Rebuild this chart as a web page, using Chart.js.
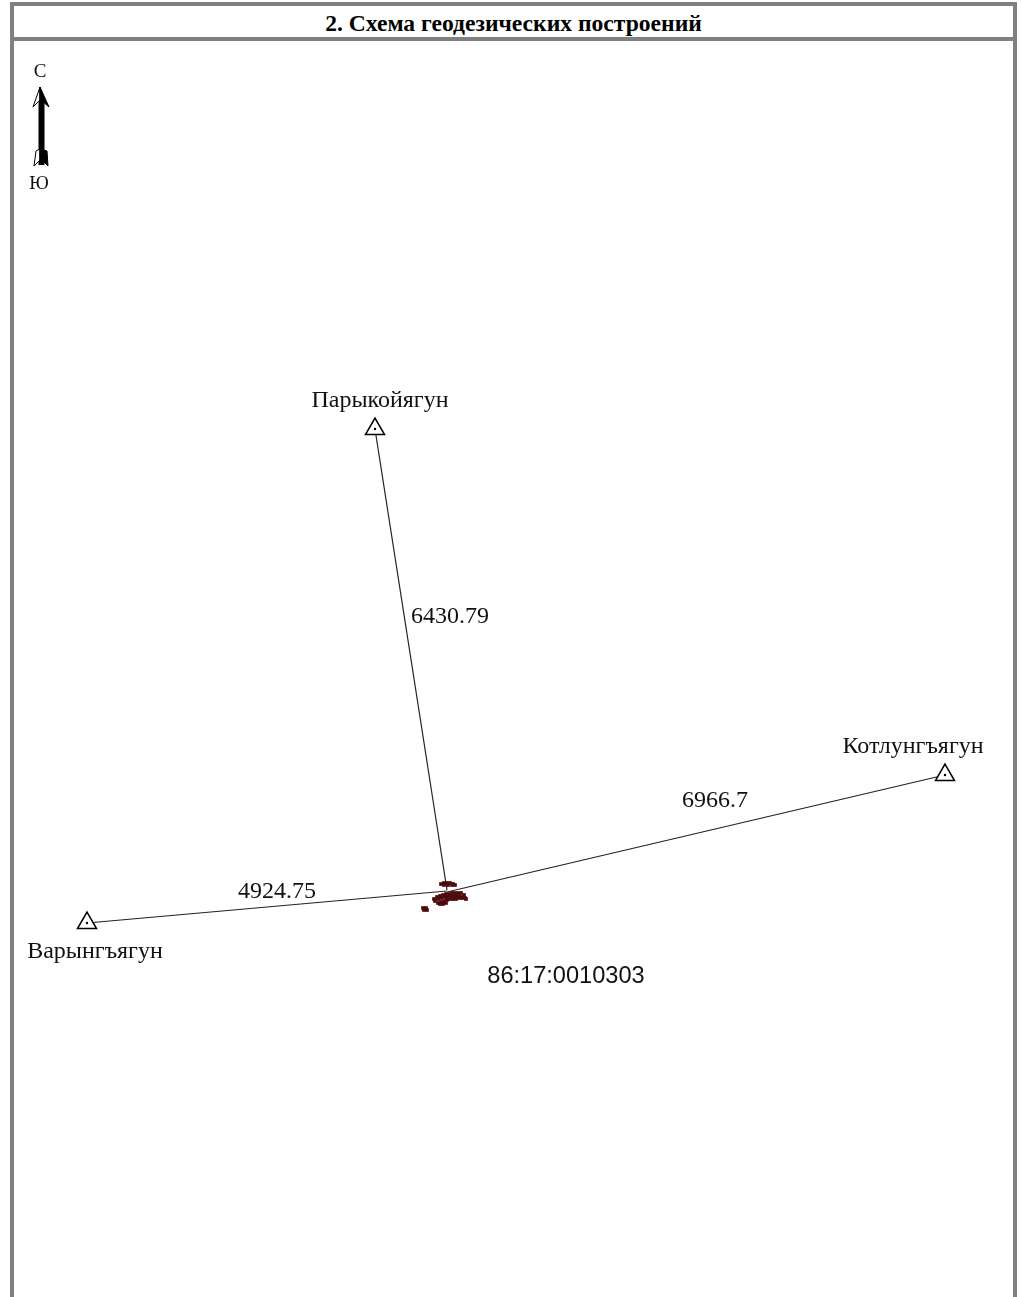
<!DOCTYPE html>
<html>
<head>
<meta charset="utf-8">
<title>Схема геодезических построений</title>
<style>
html, body { margin: 0; padding: 0; background: #fff; overflow: hidden; }
#wrap { position: relative; width: 1021px; height: 1297px; }
#chart { position: absolute; left: 0; top: 0; }
#frame { position: absolute; left: 10px; top: 2px; width: 999px; height: 1300px; border: 4px solid #808080; }
#title { position: absolute; left: 0; right: 0; top: 0; height: 31px; border-bottom: 4px solid #808080;
  text-align: center; font: bold 23.6px/34px "Liberation Serif", serif; color: #000; background: #fff; }
</style>
</head>
<body>
<div id="wrap">
  <canvas id="chart" width="1021" height="1297"></canvas>
  <div id="frame"><div id="title">2. Схема геодезических построений</div></div>
</div>
<script src="https://cdn.jsdelivr.net/npm/chart.js"></script>
<script>
  // stations
  const stationNames = ['Парыкойягун', 'Котлунгъягун', 'Варынгъягун'];
  const stationX = [375, 945, 87];
  const stationY = [429, 775, 923];
  const nameX = [380, 913, 95];
  const nameY = [401, 747, 952];

  // where the three lines meet the parcel
  const hubX = [447, 447, 447];
  const hubY = [890, 892, 891];

  // distances
  const distLabels = ['6430.79', '6966.7', '4924.75'];
  const distX = [450, 715, 277];
  const distY = [617, 801, 892];

  // parcel pieces
  const parcelX = [441, 444, 447, 450, 453, 455, 444, 448, 452,
    434, 437, 440, 443, 446, 449, 452, 455, 458, 461, 464,
    435, 438, 441, 444, 447, 450, 453, 456, 459, 462, 465,
    438, 441, 444, 447, 450, 453, 456, 459, 462,
    440, 443, 446, 466,
    423, 426, 424, 427];
  const parcelY = [884, 883, 883, 883, 884, 885, 885, 885, 885,
    899, 897, 896, 895, 894, 894, 893, 893, 893, 893, 895,
    901, 899, 898, 897, 897, 896, 896, 896, 896, 897, 898,
    903, 902, 901, 900, 899, 899, 899, 898, 898,
    904, 904, 903, 899,
    908, 908, 910, 910];

  const sheetLabel = '86:17:0010303';

  // north arrow
  const shaftX = [41.5, 41.5];
  const shaftY = [100, 165];
  const headLeftX = [33, 40, 40, 33];
  const headLeftY = [107, 87, 100, 107];
  const headRightX = [40, 49, 41, 40];
  const headRightY = [87, 107, 100, 87];
  const tailLeftX = [34, 36, 40, 40, 34];
  const tailLeftY = [166, 151, 149, 160, 166];
  const tailRightX = [41, 47, 48, 43, 41];
  const tailRightY = [149, 151, 166, 161, 149];
  const compassLabels = ['С', 'Ю'];
  const compassX = [40, 39];
  const compassY = [72, 184];

  const toPoints = (xs, ys) => xs.map((x, i) => ({ x: x, y: ys[i] }));

  // one thin line per station
  const lineSets = stationX.map((x, i) => ({
    data: toPoints([x, hubX[i]], [stationY[i], hubY[i]]),
    showLine: true, borderColor: '#222', borderWidth: 1.2, pointRadius: 0, order: 5
  }));

  const outline = (xs, ys, fillColor) => ({
    data: toPoints(xs, ys), showLine: true, fill: 'shape', backgroundColor: fillColor,
    borderColor: '#000', borderWidth: 1, pointRadius: 0, order: 3
  });

  const textPlugin = {
    id: 'textPlugin',
    afterDatasetsDraw(chart) {
      const c = chart.ctx, sx = chart.scales.x, sy = chart.scales.y;
      const put = (labels, xs, ys, font) => {
        c.font = font;
        labels.forEach((t, i) => c.fillText(t, sx.getPixelForValue(xs[i]), sy.getPixelForValue(ys[i])));
      };
      c.save();
      c.fillStyle = '#111';
      c.textAlign = 'center';
      c.textBaseline = 'middle';
      put(stationNames, nameX, nameY, '24px "Liberation Serif"');
      put(distLabels, distX, distY, '24px "Liberation Serif"');
      put(compassLabels, compassX, compassY, '19px "Liberation Serif"');
      put([sheetLabel], [566], [976], '23.6px "Liberation Sans"');
      c.restore();
    }
  };

  new Chart(document.getElementById('chart'), {
    type: 'scatter',
    data: {
      datasets: [
        { data: toPoints(stationX, stationY), pointStyle: 'circle', pointRadius: 1.2, backgroundColor: '#000', borderWidth: 0, order: 0 },
        { data: toPoints(stationX, stationY), pointStyle: 'triangle', pointRadius: 11, backgroundColor: '#fff', borderColor: '#000', borderWidth: 1.5, order: 1 },
        { data: toPoints(parcelX, parcelY), pointStyle: 'rect', pointRadius: 2.6, backgroundColor: '#4d0a0d', borderWidth: 0, order: 2 },
        { data: toPoints(shaftX, shaftY), showLine: true, borderColor: '#000', borderWidth: 6, pointRadius: 0, order: 4 },
        outline(headLeftX, headLeftY, '#fff'),
        outline(headRightX, headRightY, '#000'),
        outline(tailLeftX, tailLeftY, '#fff'),
        outline(tailRightX, tailRightY, '#000'),
        ...lineSets
      ]
    },
    options: {
      responsive: false,
      animation: false,
      devicePixelRatio: 1,
      layout: { padding: 0, autoPadding: false },
      plugins: { legend: { display: false }, tooltip: { enabled: false } },
      scales: {
        x: { type: 'linear', min: 0, max: 1021, display: false },
        y: { type: 'linear', min: 0, max: 1297, reverse: true, display: false }
      }
    },
    plugins: [textPlugin]
  });
</script>
</body>
</html>
